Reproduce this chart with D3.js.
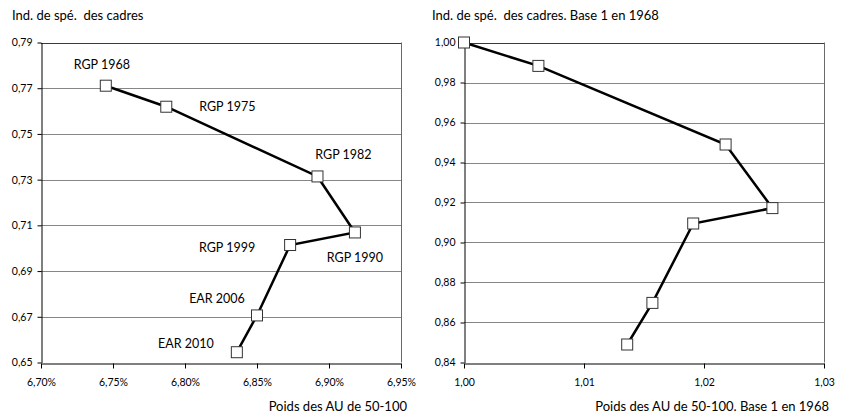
<!DOCTYPE html>
<html><head><meta charset="utf-8">
<script src="https://cdn.jsdelivr.net/npm/d3@7"></script>
<style>body{margin:0;background:#fff}svg{display:block;font-family:Lato,"Open Sans",sans-serif}text{white-space:pre}</style>
</head><body><svg id="c" width="842" height="413"></svg>
<script>
const labels = ["RGP 1968","RGP 1975","RGP 1982","RGP 1990","RGP 1999","EAR 2006","EAR 2010"];
const poids = [6.745, 6.787, 6.892, 6.918, 6.873, 6.850, 6.836];        // % AU 50-100
const indSpe = [0.7711, 0.7619, 0.7314, 0.7069, 0.7014, 0.6706, 0.6545];
const poidsBase = [1.0000, 1.0062, 1.0218, 1.0257, 1.0191, 1.0157, 1.0136];
const indSpeBase = [1.000, 0.9883, 0.9490, 0.9172, 0.9095, 0.8698, 0.8490];
const xTicksL = [6.70, 6.75, 6.80, 6.85, 6.90, 6.95];
const yTicksL = [0.65, 0.67, 0.69, 0.71, 0.73, 0.75, 0.77, 0.79];
const xTicksR = [1.00, 1.01, 1.02, 1.03];
const yTicksR = [0.84, 0.86, 0.88, 0.90, 0.92, 0.94, 0.96, 0.98, 1.00];
// label offsets (px) relative to the markers on the left chart
const labelOffsets = [[-4,-21],[61,0],[26,-22],[0,25],[-63,2],[-40,-17],[-51,-9]];

const svg = d3.select("#c");
const fr = (d, n) => d.toFixed(n).replace(".", ",");

function panel(o){
  const g = svg.append("g");
  const x = d3.scaleLinear().domain(o.xd).range([o.x0, o.x1]);
  const y = d3.scaleLinear().domain(o.yd).range([o.y1, o.y0]);
  g.selectAll("line.grid").data(o.yt.slice(1)).join("line")
    .attr("x1", o.x0).attr("x2", o.x1)
    .attr("y1", d => Math.round(y(d))+0.5).attr("y2", d => Math.round(y(d))+0.5)
    .attr("stroke", (d,i,a) => i === a.length-1 ? "#3a3a3a" : "#868686").attr("stroke-width", 1);
  g.append("line").attr("x1", o.x1+0.5).attr("x2", o.x1+0.5).attr("y1", y(o.yd[1])).attr("y2", y(o.yd[0]))
    .attr("stroke", "#6a6a6a");
  const ax = g.append("g").attr("transform", `translate(0,${Math.round(y(o.yd[0]))+0.5})`)
    .call(d3.axisBottom(x).tickValues(o.xt).tickSize(5).tickSizeOuter(0).tickFormat(o.xf));
  ax.select(".domain").attr("stroke", "#000");
  ax.selectAll(".tick line").attr("stroke", "#000");
  ax.selectAll("text").attr("font-size", 10.5).attr("fill", "#000").attr("font-family", "Lato").attr("dy", "1.35em");
  const ay = g.append("g").attr("transform", `translate(${Math.round(o.x0)+0.5},0)`)
    .call(d3.axisLeft(y).tickValues(o.yt).tickSize(4).tickSizeOuter(0).tickFormat(d => fr(d,2)));
  ay.select(".domain").attr("stroke", "#000");
  ay.selectAll(".tick line").attr("stroke", "#000");
  ay.selectAll("text").attr("font-size", 10.5).attr("fill", "#000").attr("font-family", "Lato").attr("x", -9);
  const pts = o.xs.map((v,i) => [x(v), y(o.ys[i])]);
  g.append("path").attr("d", d3.line()(pts)).attr("fill", "none").attr("stroke", "#000").attr("stroke-width", 2.5);
  g.selectAll("rect.m").data(pts).join("rect")
    .attr("x", d => d[0]-5.5).attr("y", d => d[1]-5.5).attr("width", 11).attr("height", 11)
    .attr("fill", "#fff").attr("stroke", "#333").attr("stroke-width", 1);
  if (o.labels) {
    g.selectAll("text.lab").data(pts).join("text")
      .attr("x", (d,i) => d[0] + labelOffsets[i][0]).attr("y", (d,i) => d[1] + labelOffsets[i][1])
      .attr("text-anchor", "middle").attr("dominant-baseline", "central")
      .attr("font-size", 12.5).attr("fill", "#000").text((d,i) => o.labels[i]);
  }
  g.append("text").attr("x", o.tx).attr("y", 15).attr("dominant-baseline", "central")
    .attr("font-size", 13).text(o.title);
  g.append("text").attr("x", o.ax).attr("y", 406).attr("dominant-baseline", "central")
    .attr("text-anchor", "end").attr("font-size", 13).text(o.xtitle);
}

panel({x0:41, x1:401, y0:42.5, y1:362.5, xd:[6.70,6.95], yd:[0.65,0.79], xt:xTicksL, yt:yTicksL,
  xs:poids, ys:indSpe, xf:d => fr(d,2)+"%", labels:labels,
  title:"Ind. de spé.  des cadres", tx:12, xtitle:"Poids des AU de 50-100", ax:407});
panel({x0:464, x1:824, y0:42.5, y1:362.5, xd:[1.00,1.03], yd:[0.84,1.00], xt:xTicksR, yt:yTicksR,
  xs:poidsBase, ys:indSpeBase, xf:d => fr(d,2), labels:null,
  title:"Ind. de spé.  des cadres. Base 1 en 1968", tx:432, xtitle:"Poids des AU de 50-100. Base 1 en 1968", ax:829});
</script></body></html>
